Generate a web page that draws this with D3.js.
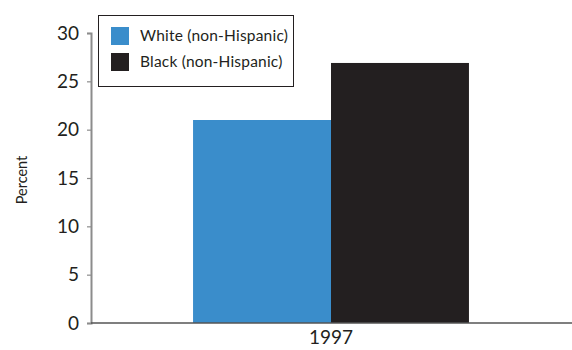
<!DOCTYPE html>
<html>
<head>
<meta charset="utf-8">
<script src="https://cdn.jsdelivr.net/npm/d3@7"></script>
<style>
  body { margin: 0; background: #fff; }
  text { font-family: Lato, "Open Sans", sans-serif; fill: #231f20; }
</style>
</head>
<body>
<svg id="chart" width="572" height="350"></svg>
<script>
var years = ['1997'];
var groups = ['White (non-Hispanic)', 'Black (non-Hispanic)'];
var colors = ['#3a8dcb', '#231f20'];
var values = [21, 26.9];
var yTicks = [0, 5, 10, 15, 20, 25, 30];

var svg = d3.select('#chart');

var x = d3.scaleBand().domain(years).range([91, 571]).padding(0.27);
var xSub = d3.scaleBand().domain(groups).range([0, x.bandwidth()]);
var y = d3.scaleLinear().domain([0, 30]).range([323, 33]);

// bars
svg.append('g').selectAll('rect')
	.data(groups)
	.enter().append('rect')
		.attr('x', function (d) { return x('1997') + xSub(d); })
		.attr('y', function (d, i) { return y(values[i]); })
		.attr('width', xSub.bandwidth())
		.attr('height', function (d, i) { return y(0) - y(values[i]); })
		.style('fill', function (d, i) { return colors[i]; });

// y axis
var yAxis = svg.append('g')
	.attr('transform', 'translate(91,0)')
	.call(d3.axisLeft(y).tickValues(yTicks).tickSize(4).tickPadding(8));
yAxis.select('.domain').attr('stroke', '#8c8c8c').attr('stroke-width', 2);
yAxis.selectAll('.tick line').attr('stroke', '#8c8c8c').attr('stroke-width', 1.2);
yAxis.selectAll('.tick text').style('font-size', '19px').style('font-family', 'Lato, sans-serif').attr('fill', '#231f20');

// x axis
var xAxis = svg.append('g')
	.attr('transform', 'translate(0,323)')
	.call(d3.axisBottom(x).tickSize(0).tickPadding(8));
xAxis.select('.domain').attr('stroke', '#555').attr('stroke-width', 1.5)
	.attr('d', 'M91,0H572');
xAxis.selectAll('.tick text').style('font-size', '19px').style('font-family', 'Lato, sans-serif').attr('fill', '#231f20');

// y label
svg.append('text')
	.attr('transform', 'translate(27,180) rotate(-90)')
	.attr('text-anchor', 'middle')
	.style('font-size', '14.5px')
	.text('Percent');

// legend
var legend = svg.append('g');
legend.append('rect')
	.attr('x', 98.5).attr('y', 15.5)
	.attr('width', 195).attr('height', 71)
	.style('fill', '#fff').style('stroke', '#231f20').style('stroke-width', 1);

var item = legend.selectAll('.item')
	.data(groups)
	.enter().append('g')
		.attr('class', 'item')
		.attr('transform', function (d, i) { return 'translate(111,' + (27 + i * 26) + ')'; });
item.append('rect')
	.attr('width', 18).attr('height', 18)
	.style('fill', function (d, i) { return colors[i]; });
item.append('text')
	.attr('x', 29).attr('y', 14)
	.style('font-size', '15.5px')
	.style('letter-spacing', '0.2px')
	.text(function (d) { return d; });
</script>
</body>
</html>
